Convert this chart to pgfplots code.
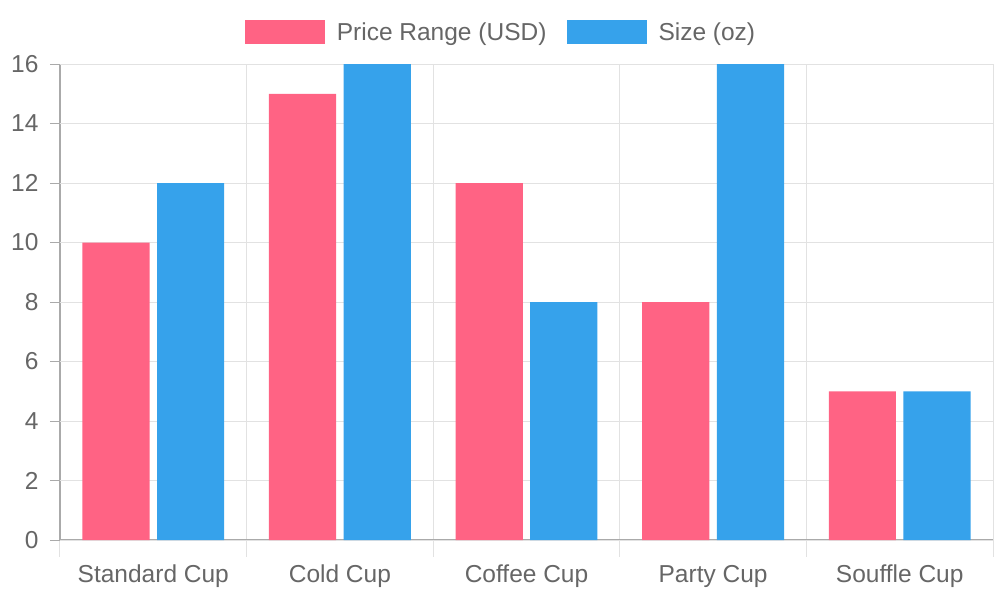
\documentclass[border=0pt]{standalone}
\usepackage{pgfplots}
\pgfplotsset{compat=1.18}
\usepackage{fontspec}
\setmainfont{Liberation Sans}
\definecolor{cpink}{HTML}{FF6384}
\definecolor{cblue}{HTML}{36A2EB}
\definecolor{txtgray}{HTML}{666666}
\definecolor{gridgray}{HTML}{E2E2E2}
\definecolor{axgray}{HTML}{AAAAAA}
\begin{document}
\begin{tikzpicture}
\begin{axis}[
  scale only axis,
  width=933pt, height=476pt,
  xmin=-0.5, xmax=4.5,
  ymin=0, ymax=16,
  % category boundaries: grid lines and long ticks
  xtick={-0.5,0.5,1.5,2.5,3.5,4.5},
  xticklabels={},
  xmajorgrids,
  x tick style={gridgray, line width=1pt},
  % category names
  extra x ticks={0,1,2,3,4},
  extra x tick labels={Standard Cup,Cold Cup,Coffee Cup,Party Cup,Souffle Cup},
  extra x tick style={grid=none, major tick length=0pt,
    tick style={draw=none}},
  % value axis
  ytick=\empty,
  extra y ticks={0,2,4,6,8,10,12,14,16},
  extra y tick style={grid=major, major tick length=10pt,
    tick style={axgray, line width=1pt}},
  axis x line*=bottom, axis y line*=left,
  axis line style={axgray, line width=1.2pt, -},
  tick align=outside,
  major tick length=17pt,
  major grid style={gridgray, line width=1pt},
  tick label style={font=\fontsize{24.5}{28}\selectfont, text=txtgray},
  /pgf/number format/assume math mode=true,
  xticklabel style={yshift=-21pt, text height=18pt, text depth=5pt},
  yticklabel style={xshift=-8pt},
  ybar, bar width=0.36,
  legend style={at={(rel axis cs:0.5,1)}, anchor=center,
    xshift=-25.5pt, yshift=32pt,
    draw=none, fill=none, legend columns=-1,
    font=\fontsize{24.5}{28}\selectfont, text=txtgray,
    /tikz/every odd column/.append style={column sep=10pt},
    /tikz/every even column/.append style={column sep=18pt}},
  legend image code/.code={\fill[#1] (0pt,-12pt) rectangle (80pt,12pt);},
  clip=false,
]
\addplot[fill=cpink, draw=none, bar shift=-0.2] coordinates {(0,10) (1,15) (2,12) (3,8) (4,5)};
\addlegendentry{Price Range (USD)}
\addplot[fill=cblue, draw=none, bar shift=0.2] coordinates {(0,12) (1,16) (2,8) (3,16) (4,5)};
\addlegendentry{Size (oz)}
\end{axis}
\path ([xshift=-60pt,yshift=-60pt]current axis.south west) -- ([xshift=7pt,yshift=64pt]current axis.north east);
\end{tikzpicture}
\end{document}
